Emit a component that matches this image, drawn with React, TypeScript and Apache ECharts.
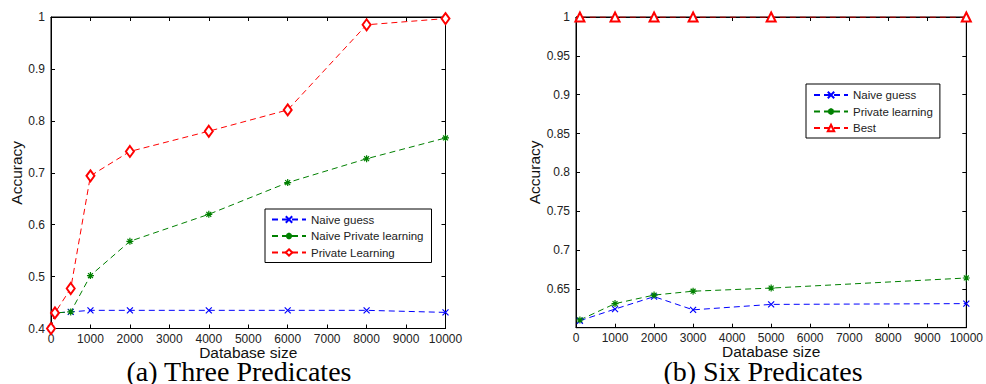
import React, { useEffect, useRef } from "react";
import * as echarts from "echarts";

// ---------- data ----------
const sizesA = [0, 100, 500, 1000, 2000, 4000, 6000, 8000, 10000];
const naiveGuessA = [0.4, 0.43, 0.432, 0.435, 0.435, 0.435, 0.435, 0.435, 0.431];
const naivePrivateA = [0.4, 0.43, 0.432, 0.502, 0.568, 0.62, 0.681, 0.727, 0.767];
const privateLearningA = [0.4, 0.43, 0.477, 0.694, 0.741, 0.78, 0.821, 0.985, 0.997];

const sizesB = [100, 1000, 2000, 3000, 5000, 10000];
const naiveGuessB = [0.609, 0.624, 0.64, 0.623, 0.63, 0.631];
const privateLearningB = [0.61, 0.631, 0.642, 0.647, 0.651, 0.664];
const bestB = [1, 1, 1, 1, 1, 1];

const legendA = ["Naive guess", "Naive Private learning", "Private Learning"];
const legendB = ["Naive guess", "Private learning", "Best"];
const captionA = "(a) Three Predicates";
const captionB = "(b) Six Predicates";
const xName = "Database size";
const yName = "Accuracy";

// ---------- styles ----------
const BLUE = "#0000ff";
const GREEN = "#008000";
const RED = "#ff0000";
const SANS = "Liberation Sans";
const X_MARK = "path://M0,0L10,10M0,10L10,0";
const STAR_MARK = "path://M5,0L5,10M0,5L10,5M1.5,1.5L8.5,8.5M1.5,8.5L8.5,1.5";

const zip = (xs: number[], ys: number[]) => xs.map((x, i) => [x, ys[i]]);
const fmt = (v: number) => String(parseFloat(v.toFixed(3)));

function lineSeries(
  name: string,
  data: number[][],
  color: string,
  symbol: string,
  symbolSize: number | number[],
  axisIdx: number
) {
  return {
    type: "line",
    name,
    data,
    xAxisIndex: axisIdx,
    yAxisIndex: axisIdx,
    symbol,
    symbolSize,
    showAllSymbol: true,
    lineStyle: { color, width: 1, type: [6, 4] },
    itemStyle: { color, borderColor: color, borderWidth: 1.2 },
    emphasis: { disabled: true },
  };
}

function axisPair(gridIndex: number, min: number, max: number, interval: number, isX: boolean, formatter?: (v: number) => string) {
  const common = {
    type: "value",
    gridIndex,
    min,
    max,
    interval,
    splitLine: { show: false },
    axisLine: { show: true, onZero: false, lineStyle: { color: "#000", width: 1 } },
    axisTick: { show: true, inside: true, length: 4, lineStyle: { color: "#000" } },
  };
  const main: any = {
    ...common,
    position: isX ? "bottom" : "left",
    name: isX ? xName : yName,
    nameLocation: "middle",
    nameGap: isX ? 16 : 25,
    nameTextStyle: { fontFamily: SANS, fontSize: 15.5, color: "#111" },
    axisLabel: {
      show: true,
      fontFamily: SANS,
      fontSize: 12,
      color: "#222",
      margin: isX ? 4 : 6,
      formatter: formatter || fmt,
    },
  };
  if (isX) main.nameMoveOverlap = false;
  const opp = {
    ...common,
    position: isX ? "top" : "right",
    axisLabel: { show: false },
  };
  return [main, opp];
}

export default function App() {
  const ref = useRef<HTMLDivElement>(null);
  useEffect(() => {
    if (!ref.current) return;
    const chart = echarts.init(ref.current, undefined, { renderer: "svg" });
    const [xA, xA2] = axisPair(0, 0, 10000, 1000, true);
    const [xB, xB2] = axisPair(1, 0, 10000, 1000, true);
    const [yA, yA2] = axisPair(0, 0.4, 1, 0.1, false);
    const [yB, yB2] = axisPair(1, 0.6, 1, 0.05, false, (v: number) => (Math.abs(v - 0.6) < 1e-6 ? "" : fmt(v)));

    const legendCommon = {
      orient: "vertical",
      backgroundColor: "#fff",
      borderColor: "#000",
      borderWidth: 1,
      borderRadius: 0,
      itemWidth: 34,
      itemHeight: 8,
      itemGap: 4.5,
      selectedMode: false,
      textStyle: { fontFamily: SANS, fontSize: 11.5, color: "#222" },
    };

    chart.setOption({
      animation: false,
      backgroundColor: "#fff",
      grid: [
        { left: 51, top: 17, width: 394.5, height: 311.5, show: true, borderColor: "#000", borderWidth: 1, backgroundColor: "transparent" },
        { left: 576, top: 17, width: 394, height: 310.7, show: true, borderColor: "#000", borderWidth: 1, backgroundColor: "transparent" },
      ],
      xAxis: [xA, xA2, xB, xB2],
      yAxis: [yA, yA2, yB, yB2],
      legend: [
        { ...legendCommon, data: legendA, left: 265, top: 209, padding: [4.5, 8, 4, 6] },
        { ...legendCommon, data: legendB, left: 806, top: 84, padding: [5, 7, 4, 7] },
      ],
      series: [
        lineSeries(legendA[0], zip(sizesA, naiveGuessA), BLUE, X_MARK, 6, 0),
        lineSeries(legendA[1], zip(sizesA, naivePrivateA), GREEN, STAR_MARK, 7, 0),
        lineSeries(legendA[2], zip(sizesA, privateLearningA), RED, "emptyDiamond", [8, 11], 0),
        lineSeries(legendB[0], zip(sizesB, naiveGuessB), BLUE, X_MARK, 6, 2),
        lineSeries(legendB[1], zip(sizesB, privateLearningB), GREEN, STAR_MARK, 7, 2),
        lineSeries(legendB[2], zip(sizesB, bestB), RED, "emptyTriangle", 9, 2),
      ],
      graphic: [
        {
          type: "text",
          x: 239,
          y: 371,
          style: { text: captionA, fontFamily: "Liberation Serif", fontSize: 28, fill: "#000", align: "center", verticalAlign: "middle" },
        },
        {
          type: "text",
          x: 763,
          y: 371,
          style: { text: captionB, fontFamily: "Liberation Serif", fontSize: 28, fill: "#000", align: "center", verticalAlign: "middle" },
        },
      ],
    });
    return () => chart.dispose();
  }, []);
  return (
    <div
      ref={ref}
      style={{ position: "fixed", left: 0, top: 0, width: 986, height: 384, background: "#fff" }}
    />
  );
}
